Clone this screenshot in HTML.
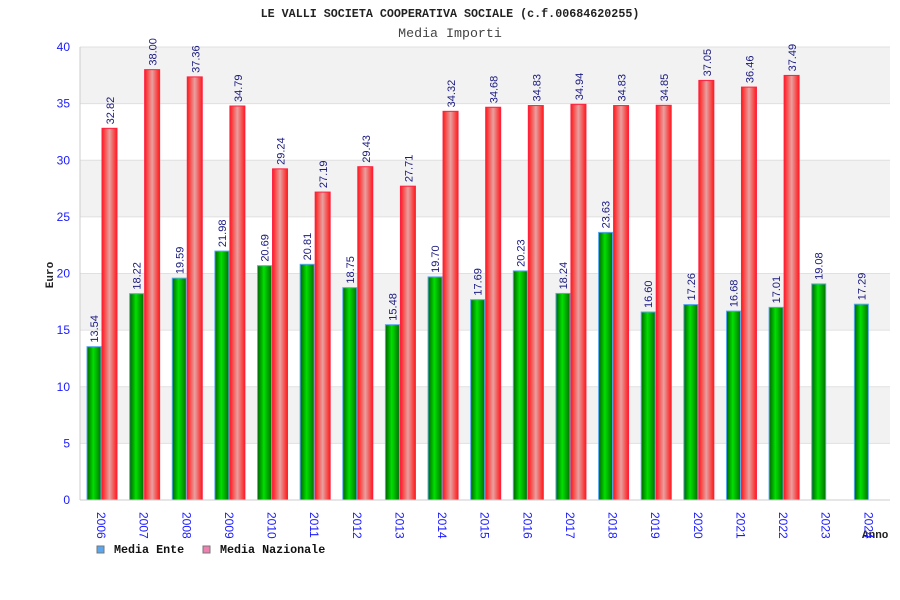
<!DOCTYPE html>
<html><head><meta charset="utf-8"><style>
body{margin:0;background:#fff}
svg{display:block;font-family:"Liberation Sans",sans-serif}
</style></head><body>
<svg id="c" width="900" height="600">
<defs>
<linearGradient id="gg" x1="0" x2="1"><stop offset="0" stop-color="#006400"/><stop offset="0.45" stop-color="#00e000"/><stop offset="1" stop-color="#007000"/></linearGradient>
<linearGradient id="rg" x1="0" x2="1"><stop offset="0" stop-color="#ff1a1a"/><stop offset="0.5" stop-color="#e8a0a0"/><stop offset="1" stop-color="#ff1a1a"/></linearGradient>
</defs>
<text x="450" y="17" text-anchor="middle" font-family="Liberation Mono,monospace" font-size="11.7" font-weight="bold" fill="#222">LE VALLI SOCIETA COOPERATIVA SOCIALE (c.f.00684620255)</text>
<text x="450" y="37" text-anchor="middle" font-family="Liberation Mono,monospace" font-size="13.3" fill="#444">Media Importi</text>
<text transform="translate(53,275) rotate(-90)" text-anchor="middle" font-family="Liberation Mono,monospace" font-size="11" font-weight="bold" fill="#222">Euro</text>
<text x="862" y="538" font-family="Liberation Mono,monospace" font-size="11" font-weight="bold" fill="#222">Anno</text>
<g id="bands"></g><g id="grid"></g><g id="bars"></g><g id="labels"></g>
<line x1="80" y1="47" x2="80" y2="500" stroke="#ccc"/>
<line x1="80" y1="500" x2="890" y2="500" stroke="#ccc"/>
<g font-family="Liberation Mono,monospace" font-size="11.7" font-weight="bold" fill="#111">
<rect x="97" y="546" width="7" height="7" fill="#5aa7f0" stroke="#777"/>
<text x="114" y="553">Media Ente</text>
<rect x="203" y="546" width="7" height="7" fill="#f080b0" stroke="#777"/>
<text x="220" y="553">Media Nazionale</text>
</g>
</svg>
<script>
const years=["2006","2007","2008","2009","2010","2011","2012","2013","2014","2015","2016","2017","2018","2019","2020","2021","2022","2023","2024"];
const ente=[13.54,18.22,19.59,21.98,20.69,20.81,18.75,15.48,19.70,17.69,20.23,18.24,23.63,16.60,17.26,16.68,17.01,19.08,17.29];
const nazionale=[32.82,38.00,37.36,34.79,29.24,27.19,29.43,27.71,34.32,34.68,34.83,34.94,34.83,34.85,37.05,36.46,37.49,null,null];
const yTicks=[0,5,10,15,20,25,30,35,40];
const NS="http://www.w3.org/2000/svg";
const L=80,R=890,T=47,B=500,YMAX=40;
const y=v=>B-(v/YMAX)*(B-T);
const gw=(R-L)/years.length;
const x=i=>L+gw*i;
function mk(t,a,p){const e=document.createElementNS(NS,t);for(const k in a)e.setAttribute(k,a[k]);p.appendChild(e);return e;}
const bands=document.getElementById('bands'),grid=document.getElementById('grid'),bars=document.getElementById('bars'),labels=document.getElementById('labels');
for(let k=0;k<yTicks.length-1;k++){
 if(k%2===1){const b=mk('rect',{x:L,y:y(yTicks[k+1]),width:R-L,height:y(yTicks[k])-y(yTicks[k+1]),fill:'#f2f2f2'},bands);
 
 }
}
yTicks.forEach(t=>{
 const l=mk('line',{x1:L,x2:R,y1:y(t),y2:y(t),stroke:'#e0e0e0'},grid);
 
 
 const tx=mk('text',{x:70,y:y(t)+4,'text-anchor':'end','font-size':12,fill:'#1a1aff'},grid);
 tx.textContent=t;
 
 
});
years.forEach((yr,i)=>{
 const gx=x(i)+7;
 const g=mk('rect',{x:gx,y:y(ente[i]),width:14,height:B-y(ente[i]),fill:'url(#gg)',stroke:'#5aa7f0','stroke-width':1},bars);
 
 
 const t1=mk('text',{transform:`translate(${gx+11},${y(ente[i])-4}) rotate(-90)`,'font-size':11,fill:'#1a1a80'},labels);
 t1.textContent=ente[i].toFixed(2);
 
 
 if(nazionale[i]!=null){
  const rx=x(i)+22;
  const r=mk('rect',{x:rx,y:y(nazionale[i]),width:15,height:B-y(nazionale[i]),fill:'url(#rg)',stroke:'#ff2040','stroke-width':1},bars);
  
  
  const t2=mk('text',{transform:`translate(${rx+12},${y(nazionale[i])-4}) rotate(-90)`,'font-size':11,fill:'#1a1a80'},labels);
  t2.textContent=nazionale[i].toFixed(2);
  
  
 }
 const xl=mk('text',{transform:`translate(${x(i)+17},512) rotate(90)`,'font-size':12,fill:'#1a1aff'},labels);
 xl.textContent=yr;
 
 
});
</script>
</body></html>
